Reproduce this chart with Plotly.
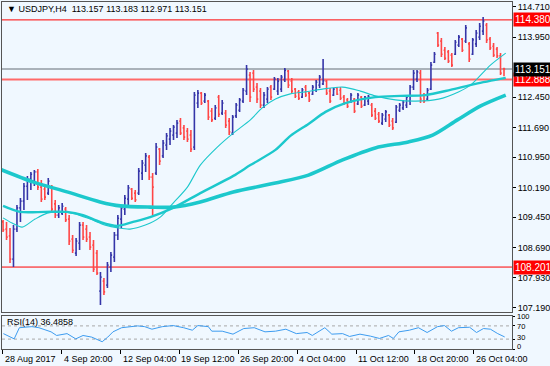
import plotly.graph_objects as go

# ---------------- data ----------------
o = [109.33,109.15,108.98,108.40,109.15,109.68,109.85,110.22,110.40,110.35,
     110.58,110.20,110.15,110.05,110.20,109.78,109.50,109.55,109.65,109.40,
     108.90,108.55,108.80,109.25,109.15,108.95,108.75,108.55,107.60,107.85,
     107.75,108.20,108.45,109.00,109.40,109.65,109.90,110.15,110.05,110.05,
     110.55,110.75,110.95,110.45,110.55,111.15,110.98,111.25,111.40,111.50,
     111.55,111.85,111.68,111.60,111.50,111.20,112.30,112.55,112.35,112.35,
     112.10,111.92,112.45,112.05,112.05,111.85,111.55,111.98,112.12,112.35,
     112.60,113.00,113.05,112.70,112.60,112.25,112.40,112.70,112.65,112.60,
     112.65,112.88,113.10,112.85,112.65,112.58,112.45,112.70,112.55,112.52,
     112.62,112.75,112.78,112.85,112.60,112.50,112.68,112.62,112.45,112.38,
     112.32,112.40,112.28,112.45,112.25,112.35,112.25,112.10,112.02,111.80,
     111.90,112.00,111.85,111.82,112.12,112.18,112.25,112.35,112.70,112.90,
     113.05,112.50,112.40,112.65,113.32,114.05,113.85,113.62,113.58,113.50,
     113.52,113.75,113.90,113.85,113.78,113.52,113.78,113.95,114.10,114.25,
     113.90,113.72,113.65,113.48,113.157]
h = [109.38,109.33,109.18,109.25,109.75,109.93,110.30,110.48,110.58,110.63,
     110.65,110.38,110.25,110.43,110.25,109.88,109.75,109.80,109.70,109.50,
     109.00,108.93,109.33,109.33,109.25,109.08,108.88,108.63,108.08,107.93,
     108.33,108.58,109.08,109.50,109.75,110.00,110.25,110.18,110.13,110.68,
     110.88,111.05,111.00,110.55,111.30,111.18,111.38,111.55,111.68,111.75,
     111.88,111.93,111.75,111.68,111.63,112.58,112.63,112.58,112.55,112.38,
     112.18,112.25,112.50,112.38,112.13,111.93,112.00,112.30,112.43,112.68,
     113.25,113.08,113.13,112.80,112.68,112.58,112.70,112.75,112.95,112.93,
     113.00,113.18,113.13,112.93,112.68,112.63,112.68,112.75,112.58,112.75,
     112.88,113.00,113.40,112.88,112.68,112.68,112.70,112.70,112.50,112.43,
     112.55,112.43,112.55,112.48,112.48,112.50,112.30,112.18,112.08,112.05,
     112.13,112.03,111.93,112.25,112.30,112.38,112.50,112.75,113.13,113.13,
     113.13,112.55,112.68,113.33,113.58,114.08,113.93,113.70,113.63,113.55,
     113.88,114.00,113.93,114.25,113.83,113.93,114.13,114.30,114.45,114.30,
     113.95,113.80,113.70,113.55,113.183]
l = [109.08,108.88,108.30,108.20,109.08,109.33,109.63,109.88,110.13,110.23,
     110.13,109.83,109.88,110.00,109.55,109.43,109.43,109.50,109.33,108.75,
     108.55,108.48,108.63,108.88,108.83,108.63,108.08,108.00,107.25,107.50,
     107.68,108.08,108.33,108.88,109.18,109.50,109.75,109.88,109.83,110.00,
     110.38,110.58,110.38,109.50,110.50,110.75,110.93,111.13,111.25,111.38,
     111.43,111.50,111.38,111.33,111.08,111.13,112.18,112.25,112.30,111.88,
     111.83,111.88,111.95,112.00,111.68,111.50,111.50,111.93,112.08,112.30,
     112.50,112.33,112.58,112.30,112.18,112.18,112.30,112.38,112.63,112.50,
     112.58,112.83,112.68,112.55,112.43,112.38,112.43,112.45,112.33,112.50,
     112.58,112.68,112.75,112.50,112.30,112.48,112.50,112.38,112.25,112.18,
     112.30,112.05,112.25,112.18,112.23,112.25,111.95,111.88,111.80,111.75,
     111.83,111.70,111.63,111.80,112.08,112.13,112.18,112.25,112.63,112.83,
     112.30,112.30,112.38,112.63,113.30,113.70,113.45,113.38,113.30,113.20,
     113.50,113.70,113.58,113.80,113.33,113.50,113.70,113.88,114.00,113.80,
     113.63,113.45,113.43,113.00,112.971]
c = [109.13,108.95,108.40,109.15,109.68,109.85,110.22,110.40,110.52,110.58,
     110.20,109.90,109.95,110.35,109.65,109.50,109.68,109.72,109.38,108.85,
     108.62,108.85,109.25,108.95,108.90,108.70,108.15,108.05,107.95,107.58,
     108.25,108.50,109.00,109.42,109.68,109.92,110.18,109.92,109.88,110.60,
     110.80,110.98,110.45,110.20,111.20,110.85,111.30,111.48,111.60,111.70,
     111.80,111.55,111.45,111.40,111.15,112.50,112.55,112.30,112.50,111.95,
     111.88,112.18,112.02,112.30,111.75,111.58,111.95,112.25,112.38,112.62,
     113.15,112.45,112.65,112.40,112.25,112.50,112.65,112.45,112.90,112.85,
     112.95,113.12,112.75,112.60,112.47,112.42,112.63,112.50,112.38,112.70,
     112.82,112.95,112.86,112.55,112.35,112.65,112.52,112.42,112.30,112.22,
     112.50,112.10,112.50,112.22,112.45,112.47,112.00,111.92,111.85,112.00,
     112.08,111.75,111.68,112.20,112.25,112.32,112.45,112.70,113.05,113.08,
     112.40,112.35,112.62,113.25,113.52,113.75,113.52,113.42,113.35,113.25,
     113.82,113.95,113.62,114.18,113.40,113.88,114.05,114.22,114.35,113.88,
     113.68,113.50,113.48,113.05,113.151]

# moving averages, read at sample bars
ma50_bar = [0,2.6,5.5,9.2,12.7,16.4,20.7,25,29.4,33.1,36.5,40.9,45.2,48.9,53,56.7,61.6,66.2,
            71.1,74.5,78.3,82.6,86.9,91.8,97.6,102.7,107,112.8,118.6,125.2,130.9,134.4,140.1,144.5]
ma50_val = [109.43,109.30,109.20,109.40,109.55,109.58,109.53,109.40,109.25,109.18,109.15,109.25,
            109.45,109.80,110.20,110.75,111.20,111.55,111.88,112.18,112.40,112.53,112.58,112.65,
            112.70,112.60,112.48,112.38,112.35,112.40,112.58,112.75,113.25,113.55]
ma100_bar = [0,4.9,12.1,18.4,23,27.9,32.8,37.4,42.3,48.9,56.7,66.2,71.1,78.3,82.6,87.8,92.7,98.4,
             107,114.2,121.4,128.6,135.8,144.5]
ma100_val = [109.73,109.58,109.58,109.58,109.50,109.33,109.23,109.33,109.45,109.68,110.05,110.48,
             110.75,111.13,111.48,111.78,112.08,112.30,112.45,112.48,112.50,112.63,112.78,112.93]
ma200_bar = [-0.9,8.6,18.4,27.9,33.7,42.3,48.9,56.7,66.2,78.3,87.8,97.6,107,116.5,123.5,130.6,137.3,144.5]
ma200_val = [110.65,110.33,110.08,109.83,109.73,109.70,109.70,109.83,110.08,110.30,110.50,110.88,
             111.18,111.33,111.50,111.88,112.23,112.50]

rsi_bar = [0.1,3.2,4.7,8.3,10.3,12.3,13.8,15.4,18.4,20.9,23,25.5,28.5,30.1,31.6,34.1,36.7,38.7,
           40.7,42.8,45.8,48.9,51.9,54.4,56,59,60,63,66.1,69.2,72.2,75.3,78.3,81.3,84.3,87.4,
           88.9,92.5,94.5,97.6,99.6,102.6,105.6,108.2,110.8,112.2,113.8,116.8,119.4,121.9,124.9,
           126.9,128.9,130.9,134.1,136.1,138.1,140.1,142.2,144.2]
rsi_val = [46.6,30.7,64.5,67.8,64.5,57,52,41,46.6,30.7,41,36,22,36,52,64.5,67.8,70,67.8,60,67.8,
           71,64.5,57,71,67.8,54,54,45,62,64.5,52,54,60,46.6,50,41,64.5,45,46.6,38,45,39,32,41,32,
           52,57,64.5,50,67.8,71,54,64.5,66,50,62,60,46.6,36.5]

levels = [114.380, 112.888, 108.201]
bid = 113.151
price_ticks = [114.710, 113.950, 112.450, 111.690, 110.950, 110.190, 109.450, 108.690, 107.930, 107.190]
rsi_ticks = [100, 70, 30, 0]
time_labels = ["28 Aug 2017", "4 Sep 20:00", "12 Sep 04:00", "19 Sep 12:00", "26 Sep 20:00",
               "4 Oct 04:00", "11 Oct 12:00", "18 Oct 20:00", "26 Oct 04:00"]
time_label_bar = [-0.06, 16.86, 33.78, 50.7, 67.6, 84.5, 101.5, 118.4, 135.3]
title = "USDJPY,H4  113.157 113.183 112.971 113.151"
rsi_title = "RSI(14) 36.4858"

# ---------------- style ----------------
BG = "#F0F8FF"
UP = "#3535a8"
DN = "#ff4646"
MA = "#1cc8cc"
FONT = "Liberation Sans"
FS = 9
idx = list(range(len(c)))
XR = [-0.3, 146.3]

fig = go.Figure()
fig.add_trace(go.Ohlc(x=idx, open=o, high=h, low=l, close=c, xaxis="x", yaxis="y",
                      increasing=dict(line=dict(color=UP, width=1.6)),
                      decreasing=dict(line=dict(color=DN, width=1.6)),
                      tickwidth=0.35, hoverinfo="skip", showlegend=False))
for bx, by, w in [(ma200_bar, ma200_val, 3.6), (ma100_bar, ma100_val, 2.4), (ma50_bar, ma50_val, 1.1)]:
    fig.add_trace(go.Scatter(x=bx, y=by, mode="lines", xaxis="x", yaxis="y",
                             line=dict(color=MA, width=w, shape="spline", smoothing=0.8),
                             hoverinfo="skip", showlegend=False))
fig.add_trace(go.Scatter(x=rsi_bar, y=rsi_val, mode="lines", xaxis="x2", yaxis="y2",
                         line=dict(color="#3d9cf0", width=1), hoverinfo="skip", showlegend=False))

shapes = []
lstyle = {114.380: ("#ff0000", 1), 112.888: ("#ff6a6a", 2), 108.201: ("#ff0000", 1)}
for lv in levels:
    col, wd = lstyle[lv]
    shapes.append(dict(type="line", xref="x domain", yref="y", x0=0, x1=1, y0=lv, y1=lv,
                       line=dict(color=col, width=wd), layer="below"))
shapes.append(dict(type="line", xref="x domain", yref="y", x0=0, x1=1, y0=bid, y1=bid,
                   line=dict(color="#aab2ba", width=2), layer="below"))
for lv in (30, 70):
    shapes.append(dict(type="line", xref="x2 domain", yref="y2", x0=0, x1=1, y0=lv, y1=lv,
                       line=dict(color="#a8a8a8", width=1, dash="dot"), layer="below"))

ann = []
for lv in levels:
    ann.append(dict(xref="paper", yref="y", x=1.0, y=lv, xanchor="left", yanchor="middle",
                    text=f"{lv:.3f}", showarrow=False, bgcolor="#ff0000",
                    font=dict(family=FONT, size=FS + 1, color="white"), borderpad=1, xshift=1))
ann.append(dict(xref="paper", yref="y", x=1.0, y=bid, xanchor="left", yanchor="middle",
                text=f"{bid:.3f}", showarrow=False, bgcolor="#000000",
                font=dict(family=FONT, size=FS + 1, color="white"), borderpad=1, xshift=1))
ann.append(dict(xref="paper", yref="paper", x=0.006, y=0.981, xanchor="left", yanchor="middle",
                text="▼ " + title, showarrow=False, font=dict(family=FONT, size=FS, color="black")))
ann.append(dict(xref="paper", yref="paper", x=0.006, y=0.079, xanchor="left", yanchor="middle",
                text=rsi_title, showarrow=False, font=dict(family=FONT, size=FS, color="black")))
# RSI scale labels, crowded like the MT4 window but kept apart
rsi_label_shift = {100: 0, 70: -1, 30: 2, 0: 3}
for v in rsi_ticks:
    ann.append(dict(xref="paper", yref="y2", x=1.0, y=v, xanchor="left", yanchor="middle",
                    text=str(v), showarrow=False, xshift=3, yshift=rsi_label_shift[v],
                    font=dict(family=FONT, size=7.5, color="black")))
for tb, tl in zip(time_label_bar, time_labels):
    ann.append(dict(xref="x2", yref="paper", x=tb, y=-0.028, xanchor="left", yanchor="middle",
                    text=tl, showarrow=False, font=dict(family=FONT, size=FS, color="black")))

axis_common = dict(showgrid=False, zeroline=False, showline=True, mirror=True,
                   linecolor="#555555", linewidth=1)
fig.update_layout(
    width=550, height=366, margin=dict(l=2, r=38, t=2, b=17, autoexpand=False),
    paper_bgcolor=BG, plot_bgcolor=BG, showlegend=False,
    xaxis=dict(domain=[0, 1], range=XR, anchor="y", showticklabels=False, ticks="",
               rangeslider=dict(visible=False), **axis_common),
    yaxis=dict(domain=[0.1052, 1], range=[107.065, 114.8275], side="right", anchor="x",
               tickvals=price_ticks, ticktext=[f"{v:.3f}" for v in price_ticks],
               ticks="outside", ticklen=3, tickcolor="#000", tickfont=dict(family=FONT, size=FS, color="black"),
               **axis_common),
    xaxis2=dict(domain=[0, 1], range=XR, anchor="y2", tickvals=time_label_bar, ticks="outside",
                ticklen=4, tickcolor="#000", showticklabels=False, **axis_common),
    yaxis2=dict(domain=[0, 0.0951], range=[0, 100], side="right", anchor="x2",
                tickvals=rsi_ticks, ticks="outside", ticklen=2, tickcolor="#000",
                showticklabels=False, **axis_common),
    shapes=shapes, annotations=ann,
)
fig.write_html("out.html", config={"displayModeBar": False},
               post_script="document.body.style.margin='0';document.body.style.background='%s';" % BG)
